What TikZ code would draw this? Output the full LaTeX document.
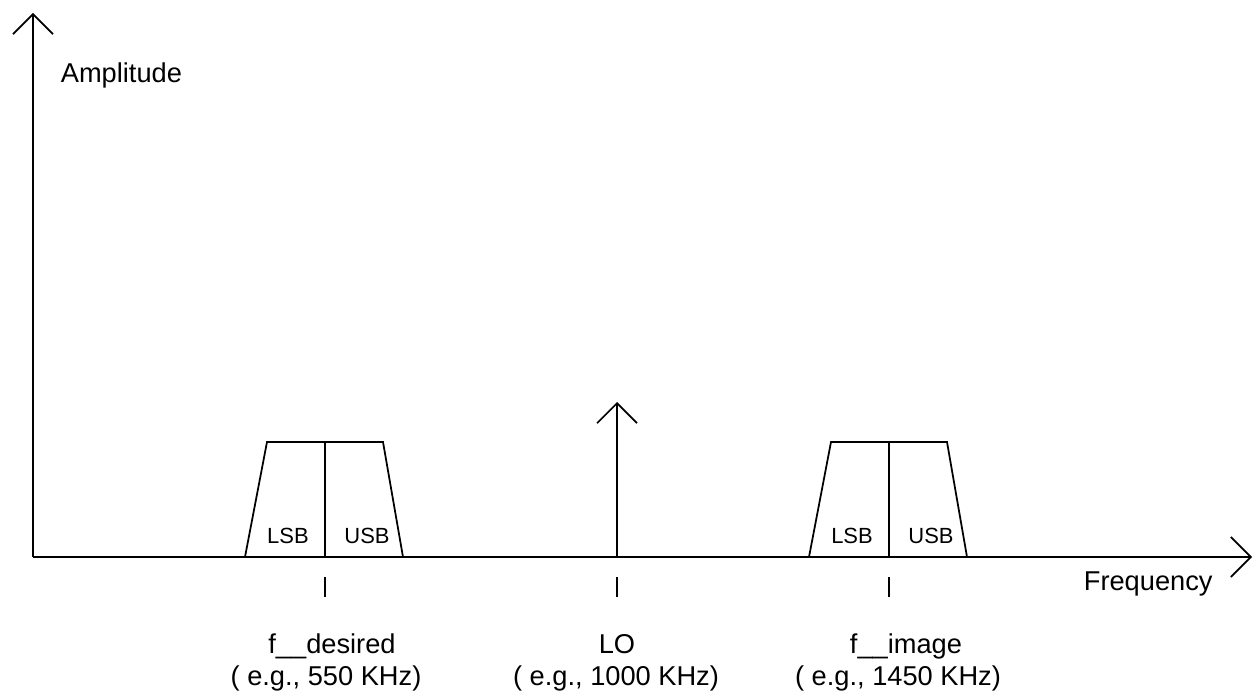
\documentclass[tikz,border=0pt]{standalone}
\usepackage{fontspec}
\setmainfont{Liberation Sans}
\usetikzlibrary{arrows.meta}

\begin{document}
\begin{tikzpicture}[x=0.02cm, y=-0.02cm, line width=1pt,
  axis/.style={-{Straight Barb[length=0.4cm, width=0.8cm, line width=1pt]}},
  big/.style={font=\fontsize{15.5}{18}\selectfont, inner sep=0pt, anchor=base},
  small/.style={font=\fontsize{12.5}{15}\selectfont, inner sep=0pt, anchor=base}]
  \useasboundingbox (0,0) rectangle (1254,696);

  % Axes
  \coordinate (origin) at (33,557);
  \coordinate (ytip) at (33,13);
  \coordinate (xtip) at (1252,557);
  \draw[axis] (origin) -- (ytip);
  \draw[axis] (origin) -- (xtip);
  \node[big, anchor=base west] (amp) at (60,83) {Amplitude};
  \node[big, anchor=base west] (freq) at (1083,590) {Frequency};

  % Sidebands
  \foreach \c in {325,889} {
    \draw (\c-80,557) -- (\c-58,442) -- (\c+58,442) -- (\c+78,557);
    \draw (\c,442) -- (\c,557);
    \node[small] at (\c-37,543) {LSB};
    \node[small] at (\c+42,543) {USB};
  }

  % LO
  \coordinate (lo) at (617,557);
  \coordinate (lotip) at (617,402);
  \draw[axis] (lo) -- (lotip);

  % Ticks
  \foreach \c/\n in {325/des, 617/lo, 889/img} {
    \coordinate (\n top) at (\c,577);
    \coordinate (\n bot) at (\c,597);
    \draw (\n top) -- (\n bot);
  }

  % Labels
  \node[big] (fdes) at (332,653) {f\_\_desired};
  \node[big] (fdesval) at (326,685) {( e.g., 550 KHz)};
  \node[big] (flo) at (617,653) {LO};
  \node[big] (floval) at (616,685) {( e.g., 1000 KHz)};
  \node[big] (fimg) at (906,653) {f\_\_image};
  \node[big] (fimgval) at (898,685) {( e.g., 1450 KHz)};
\end{tikzpicture}
\end{document}
